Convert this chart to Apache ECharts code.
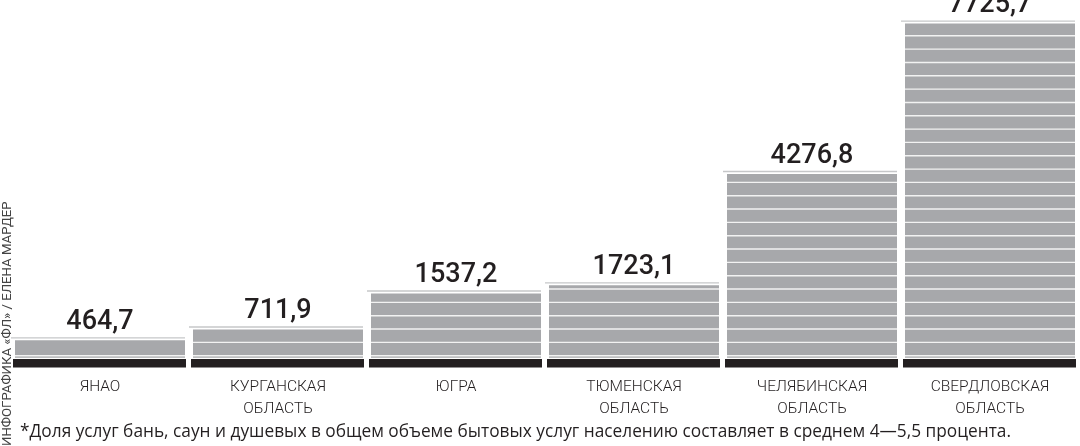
<!DOCTYPE html>
<html><head><meta charset="utf-8">
<script src="https://cdn.jsdelivr.net/npm/echarts@6/dist/echarts.min.js"></script>
<style>html,body{margin:0;padding:0;background:#fff;}#c{width:1080px;height:446px;}</style>
</head><body><div id="c"></div>
<script>
const categories = ['ЯНАО', 'КУРГАНСКАЯ\nОБЛАСТЬ', 'ЮГРА', 'ТЮМЕНСКАЯ\nОБЛАСТЬ', 'ЧЕЛЯБИНСКАЯ\nОБЛАСТЬ', 'СВЕРДЛОВСКАЯ\nОБЛАСТЬ'];
const values = [464.7, 711.9, 1537.2, 1723.1, 4276.8, 7725.7];
const footnote = '*Доля услуг бань, саун и душевых в общем объеме бытовых услуг населению составляет в среднем 4—5,5 процента.';
const credit = 'ИНФОГРАФИКА «ФЛ» / ЕЛЕНА МАРДЕР';

const fmt = v => v.toFixed(1).replace('.', ',');
const chart = echarts.init(document.getElementById('c'));

function renderItem(params, api) {
  const i = api.value(0), v = api.value(1);
  const base = api.coord([i, 0]);
  const top = api.coord([i, v]);
  const bw = api.size([1, 0])[0] * 0.955;
  const x0 = base[0] - bw / 2;
  const children = [];
  children.push({type: 'rect', shape: {x: x0 - 2, y: base[1] + 1, width: bw + 3, height: 8.5}, style: {fill: '#231f20'}});
  const gTop = top[1] + 2.5;
  children.push({type: 'rect', shape: {x: x0, y: gTop, width: bw, height: base[1] - 0.3 - gTop}, style: {fill: '#a7a8ab'}});
  for (let y = base[1] - 3; y > gTop + 3; y -= 13.33) {
    children.push({type: 'rect', shape: {x: x0, y: y, width: bw, height: 1.4}, style: {fill: '#f2f2f2'}});
  }
  children.push({type: 'rect', shape: {x: x0 - 4, y: top[1] - 0.6, width: bw + 4, height: 1.3}, style: {fill: '#c6c7c9'}});
  children.push({type: 'text', x: base[0], y: top[1] - 2, style: {text: fmt(v), fill: '#231f20', font: '500 27px Roboto', align: 'center', verticalAlign: 'bottom'}});
  return {type: 'group', children: children};
}

chart.setOption({
  animation: false,
  grid: {left: 11, right: 1, top: 21, bottom: 88},
  xAxis: {type: 'category', data: categories, axisLine: {show: false}, axisTick: {show: false},
    axisLabel: {margin: 18, color: '#231f20', fontFamily: 'Roboto', fontWeight: 300, fontSize: 15.5, lineHeight: 22, interval: 0}},
  yAxis: {type: 'value', min: 0, max: 7725.7, show: false, splitLine: {show: false}},
  series: [{type: 'custom', renderItem: renderItem, data: values.map((v, i) => [i, v]), encode: {x: 0, y: 1}, clip: false}],
  graphic: [
    {type: 'text', left: 20, top: 424, style: {text: footnote, fill: '#231f20', font: '400 17.3px "Open Sans"'}},
    {type: 'text', x: 8, y: 446, rotation: Math.PI / 2, style: {text: credit, fill: '#444', font: '400 13.2px Roboto', align: 'left', verticalAlign: 'middle'}}
  ]
});
</script></body></html>
